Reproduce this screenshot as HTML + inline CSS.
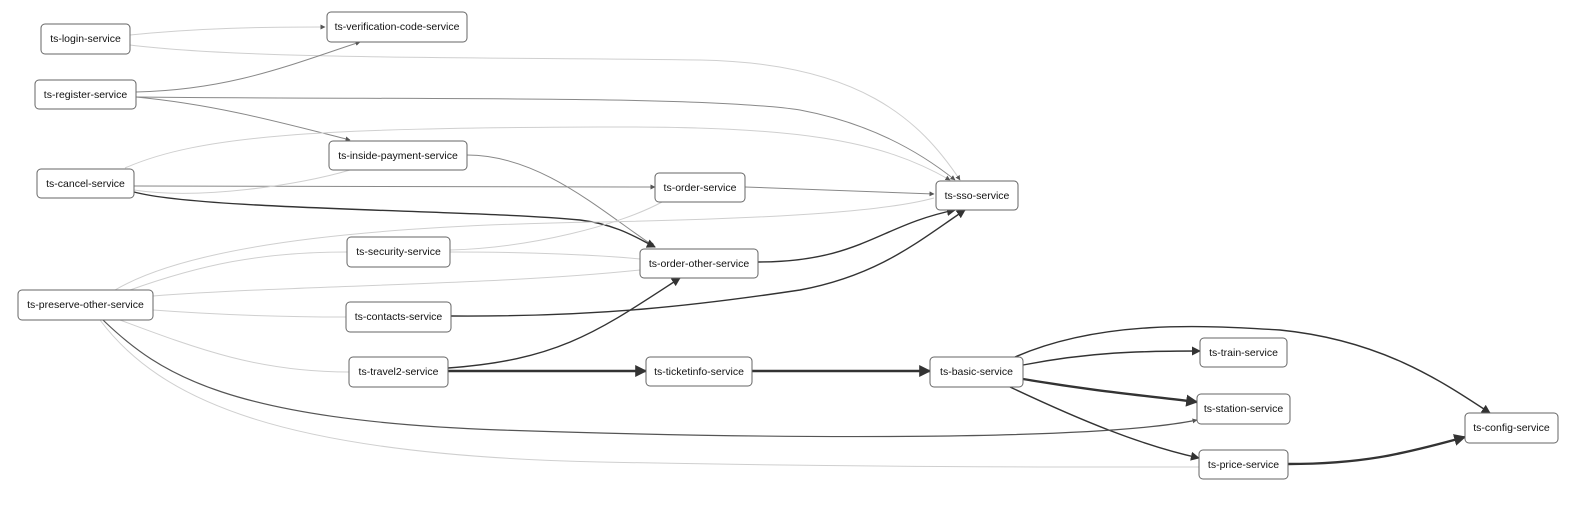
<!DOCTYPE html>
<html><head><meta charset="utf-8"><style>
body{margin:0;background:#fff;}
svg{display:block;font-family:"Liberation Sans",Arial,sans-serif;}
.n rect{fill:#fff;stroke:#666;stroke-width:1;}
.n text{font-size:10.5px;fill:#111;text-anchor:middle;dominant-baseline:central;}
.l,.m,.d,.t{fill:none;}
.l{stroke:#cfcfcf;stroke-width:1;}
.m{stroke:#888;stroke-width:1;}
.d{stroke:#333;stroke-width:1.4;}
.t{stroke:#333;stroke-width:2.4;}
</style></head><body>
<svg width="1578" height="506" viewBox="0 0 1578 506">
<defs>
<marker id="a" viewBox="0 0 10 10" refX="9" refY="5" markerWidth="5" markerHeight="5" orient="auto" markerUnits="userSpaceOnUse"><path d="M0,0L10,5L0,10z" style="fill:#555;stroke:none"/></marker>
<marker id="b" viewBox="0 0 10 10" refX="9" refY="5" markerWidth="9" markerHeight="9" orient="auto" markerUnits="userSpaceOnUse"><path d="M0,0L10,5L0,10z" style="fill:#333;stroke:none"/></marker>
<marker id="c" viewBox="0 0 10 10" refX="9" refY="5" markerWidth="12" markerHeight="12" orient="auto" markerUnits="userSpaceOnUse"><path d="M0,0L10,5L0,10z" style="fill:#333;stroke:none"/></marker>
</defs>
<path class="l" d="M130,35 C200,28 260,27 325,27" marker-end="url(#a)"/>
<path class="l" d="M130,45 C250,60 500,57 700,60 C860,63 920,120 960,180" marker-end="url(#a)"/>
<path class="m" d="M136,92 C230,90 290,65 360,42" marker-end="url(#a)"/>
<path class="m" d="M136,97 C400,100 700,95 800,110 C880,125 930,160 955,180" marker-end="url(#a)"/>
<path class="m" d="M136,97 C220,105 290,125 350,140" marker-end="url(#a)"/>
<path class="m" d="M467,155 C540,155 600,210 655,247" marker-end="url(#a)"/>
<path class="m" d="M134,186 L655,187" marker-end="url(#a)"/>
<path class="d" d="M134,192 C200,210 480,210 580,220 C620,225 640,240 655,247" marker-end="url(#b)"/>
<path class="l" d="M125,168 C200,135 320,128 600,127 C800,126 880,140 950,180" marker-end="url(#a)"/>
<path class="l" d="M134,190 C200,200 300,185 350,170"/>
<path class="m" d="M745,187 L934,194" marker-end="url(#a)"/>
<path class="d" d="M758,262 C860,262 880,225 955,210" marker-end="url(#b)"/>
<path class="d" d="M451,316 C600,317 700,305 800,290 C880,275 920,240 965,210" marker-end="url(#b)"/>
<path class="l" d="M115,290 C200,240 400,225 600,222 C800,218 890,210 934,198"/>
<path class="l" d="M130,290 C200,265 260,252 347,252"/>
<path class="l" d="M450,250 C530,248 620,225 662,202"/>
<path class="l" d="M450,252 C530,252 600,255 640,259"/>
<path class="l" d="M153,296 C300,285 500,285 640,270"/>
<path class="l" d="M153,310 C220,315 280,317 346,317"/>
<path class="l" d="M120,320 C200,350 260,372 349,372"/>
<path class="d" d="M448,368 C560,360 600,330 680,278" marker-end="url(#b)"/>
<path class="t" d="M448,371 L646,371" marker-end="url(#c)"/>
<path class="t" d="M752,371 L930,371" marker-end="url(#c)"/>
<path class="d" d="M1015,357 C1100,320 1200,325 1280,330 C1380,340 1440,380 1490,413" marker-end="url(#b)"/>
<path class="d" d="M1023,365 C1090,352 1140,351 1200,351" marker-end="url(#b)"/>
<path class="t" d="M1023,379 C1100,392 1150,396 1197,402" marker-end="url(#c)"/>
<path class="d" d="M1010,387 C1080,420 1140,445 1199,458" marker-end="url(#b)"/>
<path class="t" d="M1288,464 C1360,464 1400,455 1465,437" marker-end="url(#c)"/>
<path class="d" d="M103,320 C160,375 230,420 500,430 C800,440 1100,440 1197,420" style="stroke:#555;stroke-width:1.2" marker-end="url(#a)"/>
<path class="l" d="M100,320 C160,400 280,455 600,462 C900,468 1100,467 1199,467"/>
<g class="n">
<g><rect x="41" y="24" width="89" height="30" rx="4"/><text x="85.5" y="39">ts-login-service</text></g>
<g><rect x="327" y="12" width="140" height="30" rx="4"/><text x="397" y="27">ts-verification-code-service</text></g>
<g><rect x="35" y="80" width="101" height="29" rx="4"/><text x="85.5" y="95">ts-register-service</text></g>
<g><rect x="329" y="141" width="138" height="29" rx="4"/><text x="398" y="156">ts-inside-payment-service</text></g>
<g><rect x="37" y="169" width="97" height="29" rx="4"/><text x="85.5" y="184">ts-cancel-service</text></g>
<g><rect x="655" y="173" width="90" height="29" rx="4"/><text x="700" y="188">ts-order-service</text></g>
<g><rect x="936" y="181" width="82" height="29" rx="4"/><text x="977" y="196">ts-sso-service</text></g>
<g><rect x="347" y="237" width="103" height="30" rx="4"/><text x="398.5" y="252">ts-security-service</text></g>
<g><rect x="640" y="249" width="118" height="29" rx="4"/><text x="699" y="264">ts-order-other-service</text></g>
<g><rect x="18" y="290" width="135" height="30" rx="4"/><text x="85.5" y="305">ts-preserve-other-service</text></g>
<g><rect x="346" y="302" width="105" height="30" rx="4"/><text x="398.5" y="317">ts-contacts-service</text></g>
<g><rect x="349" y="357" width="99" height="30" rx="4"/><text x="398.5" y="372">ts-travel2-service</text></g>
<g><rect x="646" y="357" width="106" height="29" rx="4"/><text x="699" y="372">ts-ticketinfo-service</text></g>
<g><rect x="930" y="357" width="93" height="30" rx="4"/><text x="976.5" y="372">ts-basic-service</text></g>
<g><rect x="1200" y="338" width="87" height="29" rx="4"/><text x="1243.5" y="353">ts-train-service</text></g>
<g><rect x="1197" y="394" width="93" height="30" rx="4"/><text x="1243.5" y="409">ts-station-service</text></g>
<g><rect x="1465" y="413" width="93" height="30" rx="4"/><text x="1511.5" y="428">ts-config-service</text></g>
<g><rect x="1199" y="450" width="89" height="29" rx="4"/><text x="1243.5" y="465">ts-price-service</text></g>
</g>
</svg>
</body></html>
